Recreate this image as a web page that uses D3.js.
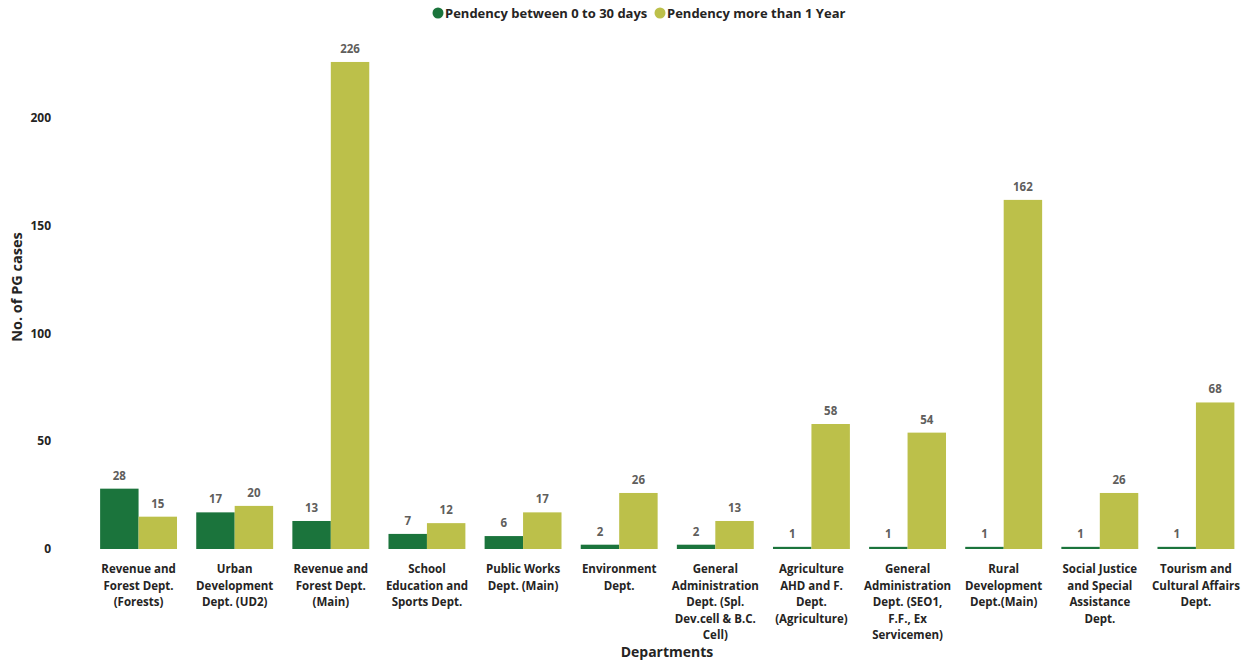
<!DOCTYPE html>
<html><head><meta charset="utf-8">
<script src="https://cdn.jsdelivr.net/npm/d3@7"></script>
<style>
body{margin:0;background:#fff;}
text{font-family:"Open Sans","Noto Sans",sans-serif;}
</style></head><body>
<svg id="c" width="1250" height="662"></svg>
<script>
const categories = [
  "Revenue and\nForest Dept.\n(Forests)",
  "Urban\nDevelopment\nDept. (UD2)",
  "Revenue and\nForest Dept.\n(Main)",
  "School\nEducation and\nSports Dept.",
  "Public Works\nDept. (Main)",
  "Environment\nDept.",
  "General\nAdministration\nDept. (Spl.\nDev.cell & B.C.\nCell)",
  "Agriculture\nAHD and F.\nDept.\n(Agriculture)",
  "General\nAdministration\nDept. (SEO1,\nF.F., Ex\nServicemen)",
  "Rural\nDevelopment\nDept.(Main)",
  "Social Justice\nand Special\nAssistance\nDept.",
  "Tourism and\nCultural Affairs\nDept."
];
const pend0to30 = [28, 17, 13, 7, 6, 2, 2, 1, 1, 1, 1, 1];
const pendOver1Y = [15, 20, 226, 12, 17, 26, 13, 58, 54, 162, 26, 68];
const seriesNames = ["Pendency between 0 to 30 days", "Pendency more than 1 Year"];
const yTicks = [0, 50, 100, 150, 200];
const colors = ["#1b743c", "#bcc04a"];

const svg = d3.select("#c");
const x = d3.scaleBand().domain(d3.range(categories.length)).range([90.5, 1244]).paddingInner(0.2).paddingOuter(0.1);
const xs = d3.scaleBand().domain([0, 1]).range([0, x.bandwidth()]);
const y = d3.scaleLinear().domain([0, 200]).range([549, 118]);

// y axis labels
svg.append("g").selectAll("text").data(yTicks).join("text")
  .attr("x", 51).attr("y", d => y(d)).attr("dy", "0.35em")
  .attr("text-anchor", "end").attr("font-size", 12).attr("font-weight", "bold")
  .attr("fill", "#252423").text(d => d);

svg.append("text").attr("transform", "translate(22,287) rotate(-90)")
  .attr("text-anchor", "middle").attr("font-size", 14.5).attr("font-weight", "bold")
  .attr("fill", "#252423").text("No. of PG cases");

const series = [pend0to30, pendOver1Y];
series.forEach((vals, si) => {
  const g = svg.append("g");
  g.selectAll("rect").data(vals).join("rect")
    .attr("x", (d, i) => x(i) + xs(si)).attr("width", xs.bandwidth())
    .attr("y", d => y(d)).attr("height", d => y(0) - y(d))
    .attr("fill", colors[si]);
  g.selectAll("text").data(vals).join("text")
    .attr("x", (d, i) => x(i) + xs(si) + xs.bandwidth() / 2)
    .attr("y", d => y(d) - 9)
    .attr("text-anchor", "middle").attr("font-size", 11.5).attr("font-weight", "bold")
    .attr("fill", "#605e5c").text(d => d);
});

// x labels
const xl = svg.append("g");
categories.forEach((c, i) => {
  const t = xl.append("text").attr("text-anchor", "middle").attr("font-size", 11.5)
    .attr("font-weight", "bold").attr("fill", "#252423");
  c.split("\n").forEach((line, li) => {
    t.append("tspan").attr("x", x(i) + x.bandwidth() / 2).attr("y", 573 + li * 16.6).text(line);
  });
});

svg.append("text").attr("x", 667).attr("y", 657).attr("text-anchor", "middle")
  .attr("font-size", 14).attr("font-weight", "bold").attr("fill", "#252423").text("Departments");

// legend
const leg = svg.append("g");
const legX = [438, 660];
seriesNames.forEach((n, i) => {
  leg.append("circle").attr("cx", legX[i]).attr("cy", 13).attr("r", 5.5).attr("fill", colors[i]);
  leg.append("text").attr("x", legX[i] + 7).attr("y", 13).attr("dy", "0.35em")
    .attr("font-size", 13).attr("font-weight", "bold").attr("fill", "#252423").text(n);
});
</script></body></html>
